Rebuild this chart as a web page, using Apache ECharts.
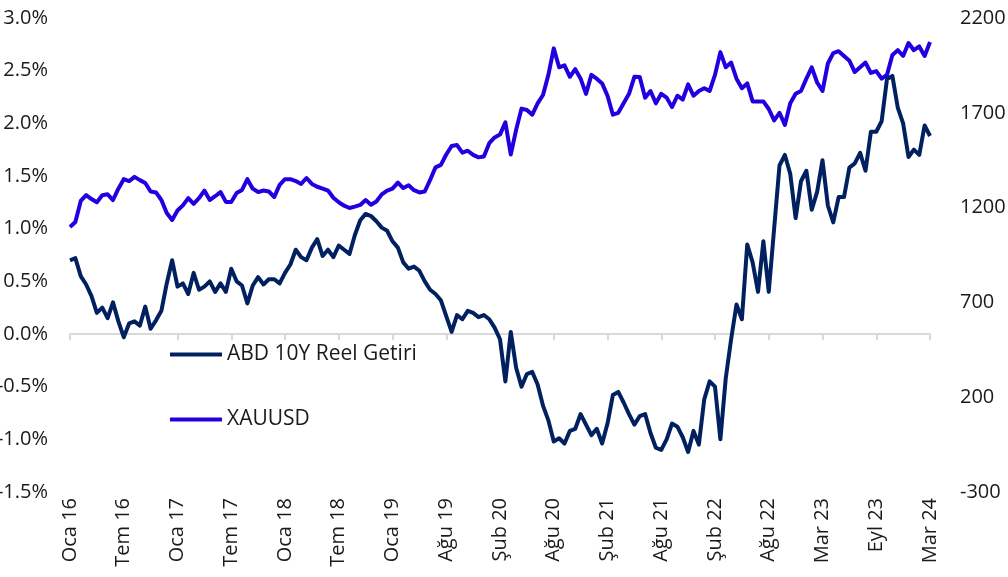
<!DOCTYPE html>
<html>
<head>
<meta charset="utf-8">
<script src="https://cdn.jsdelivr.net/npm/echarts@6/dist/echarts.min.js"></script>
<style>
html,body{margin:0;padding:0;background:#fff;}
#chart{width:1008px;height:577px;}
</style>
</head>
<body>
<div id="chart"></div>
<script>
// Tick labels (one every 10 data points)
const tickLabels = ['Oca 16','Tem 16','Oca 17','Tem 17','Oca 18','Tem 18','Oca 19','Ağu 19','Şub 20','Ağu 20','Şub 21','Ağu 21','Şub 22','Ağu 22','Mar 23','Eyl 23','Mar 24'];
const pointsPerTick = 10;

// ABD 10Y Reel Getiri (%)
const realYield = [
 0.70,0.72,0.55,0.47,0.36,0.20,0.25,0.15,0.30,0.12,
 -0.03,0.10,0.12,0.08,0.26,0.05,0.13,0.22,0.48,0.70,
 0.45,0.48,0.38,0.58,0.42,0.45,0.50,0.40,0.48,0.40,
 0.62,0.50,0.46,0.29,0.46,0.54,0.47,0.52,0.52,0.48,
 0.58,0.66,0.80,0.73,0.70,0.82,0.90,0.74,0.80,0.73,
 0.84,0.80,0.76,0.94,1.08,1.14,1.12,1.07,1.01,0.98,
 0.88,0.82,0.68,0.62,0.64,0.60,0.50,0.42,0.38,0.32,
 0.17,0.02,0.18,0.14,0.22,0.20,0.16,0.18,0.14,0.06,
 -0.05,-0.45,0.02,-0.32,-0.50,-0.38,-0.36,-0.48,-0.68,-0.82,
 -1.02,-0.99,-1.04,-0.92,-0.90,-0.76,-0.86,-0.96,-0.90,-1.04,
 -0.85,-0.58,-0.55,-0.65,-0.76,-0.86,-0.78,-0.76,-0.94,-1.08,
 -1.10,-1.00,-0.85,-0.88,-0.98,-1.12,-0.92,-1.05,-0.62,-0.45,
 -0.50,-1.00,-0.42,-0.05,0.28,0.14,0.85,0.68,0.40,0.88,
 0.40,1.00,1.60,1.70,1.52,1.10,1.45,1.55,1.18,1.35,
 1.65,1.22,1.06,1.30,1.30,1.58,1.62,1.72,1.55,1.92,
 1.92,2.02,2.42,2.45,2.15,2.00,1.68,1.75,1.70,1.98,
 1.88
];

// XAUUSD
const gold = [
 1098,1124,1235,1266,1245,1228,1265,1270,1240,1300,
 1350,1340,1362,1345,1330,1285,1280,1240,1172,1135,
 1185,1212,1250,1220,1250,1290,1240,1260,1282,1230,
 1230,1277,1293,1350,1300,1282,1290,1285,1256,1320,
 1350,1350,1340,1325,1356,1325,1310,1300,1290,1252,
 1228,1210,1198,1205,1214,1240,1215,1232,1270,1290,
 1300,1332,1303,1318,1292,1280,1285,1346,1412,1425,
 1480,1525,1530,1490,1500,1478,1465,1470,1540,1570,
 1585,1650,1480,1610,1722,1715,1690,1750,1794,1900,
 2040,1940,1950,1890,1930,1880,1800,1900,1880,1855,
 1790,1690,1700,1750,1800,1890,1889,1780,1815,1750,
 1800,1780,1730,1790,1770,1850,1790,1815,1830,1815,
 1900,2020,1940,1965,1880,1830,1855,1760,1760,1760,
 1720,1660,1700,1636,1750,1800,1815,1880,1940,1860,
 1815,1960,2015,2025,2000,1975,1915,1940,1965,1910,
 1920,1880,1900,2005,2030,2000,2068,2030,2050,2000,
 2073
];

const categories = realYield.map((_, i) => (i % pointsPerTick === 0 ? tickLabels[i / pointsPerTick] : ''));

const FONT = '"Open Sans", "Noto Sans", sans-serif';
const TXT = '#1a1a1a';

const chart = echarts.init(document.getElementById('chart'), null, {renderer: 'canvas'});
chart.setOption({
  animation: false,
  backgroundColor: '#ffffff',
  grid: {left: 70, right: 78, top: 18, bottom: 85, containLabel: false, outerBoundsMode: 'none'},
  legend: {
    orient: 'vertical',
    left: 165,
    top: 339,
    padding: 5,
    itemWidth: 52,
    itemHeight: 4,
    itemGap: 44,
    icon: 'rect',
    textStyle: {fontFamily: FONT, fontSize: 21, color: TXT},
    data: ['ABD 10Y Reel Getiri', 'XAUUSD']
  },
  xAxis: [
    {
      type: 'category',
      data: categories,
      boundaryGap: false,
      position: 'bottom',
      axisLine: {show: false, onZero: false},
      axisTick: {show: false},
      splitLine: {show: false},
      axisLabel: {
        interval: pointsPerTick - 1,
        rotate: 90,
        margin: 6,
        fontFamily: FONT,
        fontSize: 20,
        color: TXT
      }
    },
    {
      type: 'category',
      data: categories,
      boundaryGap: false,
      position: 'bottom',
      axisLine: {show: true, onZero: true, onZeroAxisIndex: 0, lineStyle: {color: '#d9d9d9', width: 2}},
      axisTick: {show: true, interval: pointsPerTick - 1, length: 6, lineStyle: {color: '#d9d9d9', width: 2}},
      axisLabel: {show: false},
      splitLine: {show: false}
    }
  ],
  yAxis: [
    {
      type: 'value',
      min: -1.5, max: 3.0, interval: 0.5,
      axisLine: {show: false},
      axisTick: {show: false},
      splitLine: {show: false},
      axisLabel: {
        margin: 22,
        fontFamily: FONT, fontSize: 20, color: TXT,
        formatter: v => v.toFixed(1) + '%'
      }
    },
    {
      type: 'value',
      min: -300, max: 2200, interval: 500,
      position: 'right',
      axisLine: {show: false},
      axisTick: {show: false},
      splitLine: {show: false},
      axisLabel: {
        margin: 30,
        fontFamily: FONT, fontSize: 20, color: TXT,
        formatter: v => String(v)
      }
    }
  ],
  series: [
    {
      name: 'ABD 10Y Reel Getiri',
      type: 'line',
      xAxisIndex: 0,
      yAxisIndex: 0,
      data: realYield,
      showSymbol: false,
      symbol: 'none',
      color: '#002060',
      lineStyle: {color: '#002060', width: 4, join: 'round'},
      z: 3
    },
    {
      name: 'XAUUSD',
      type: 'line',
      xAxisIndex: 0,
      yAxisIndex: 1,
      data: gold,
      showSymbol: false,
      symbol: 'none',
      color: '#2000E0',
      lineStyle: {color: '#2000E0', width: 4, join: 'round'},
      z: 4
    }
  ]
});
</script>
</body>
</html>
